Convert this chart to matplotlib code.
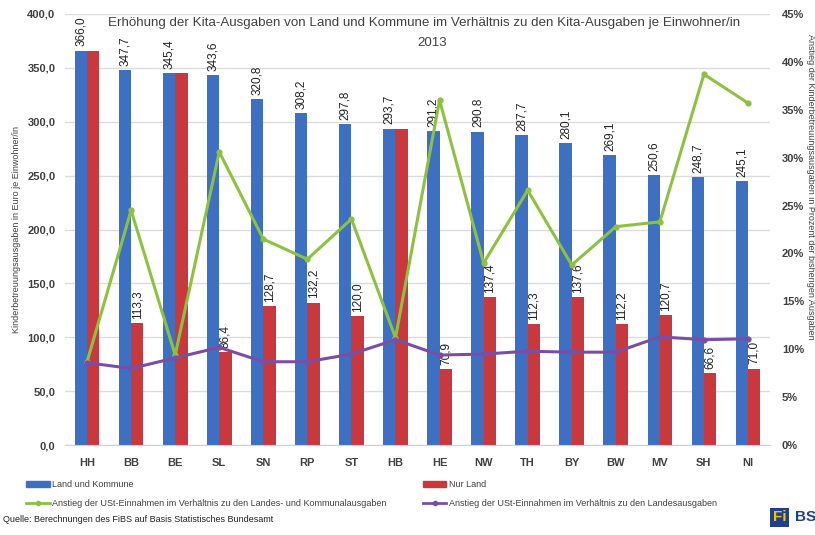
import matplotlib
matplotlib.use("Agg")
import matplotlib.pyplot as plt
from matplotlib.lines import Line2D
from matplotlib.patches import Patch
import numpy as np

plt.rcParams["font.family"] = ["Liberation Sans", "DejaVu Sans"]

laender = ["HH", "BB", "BE", "SL", "SN", "RP", "ST", "HB",
           "HE", "NW", "TH", "BY", "BW", "MV", "SH", "NI"]
land_kommune = [366.0, 347.7, 345.4, 343.6, 320.8, 308.2, 297.8, 293.7,
                291.2, 290.8, 287.7, 280.1, 269.1, 250.6, 248.7, 245.1]
nur_land = [366.0, 113.3, 345.4, 86.4, 128.7, 132.2, 120.0, 293.7,
            70.9, 137.4, 112.3, 137.6, 112.2, 120.7, 66.6, 71.0]
# Anstieg in Prozent (rechte Achse)
anstieg_land_kommune = [8.7, 24.5, 9.4, 30.6, 21.5, 19.4, 23.6, 11.2,
                        36.0, 19.0, 26.6, 18.8, 22.8, 23.3, 38.7, 35.7]
anstieg_land = [8.6, 8.0, 9.1, 10.2, 8.7, 8.7, 9.5, 11.0,
                9.4, 9.5, 9.8, 9.7, 9.7, 11.3, 11.0, 11.1]

c_blue = "#3d70c2"
c_red = "#c9383c"
c_green = "#8cc23f"
c_purple = "#7a4fa3"
c_text = "#404040"

fig = plt.figure(figsize=(8.15, 5.35), dpi=100)
ax = fig.add_axes([0.0798, 0.168, 0.865, 0.806])
ax2 = ax.twinx()

x = np.arange(len(laender))
w = 0.28
ax.bar(x - w / 2, land_kommune, width=w, color=c_blue, zorder=2)
ax.bar(x + w / 2, nur_land, width=w, color=c_red, zorder=2)

for i in range(len(laender)):
    ax.annotate("{:.1f}".format(land_kommune[i]).replace(".", ","),
                (x[i] - w / 2, land_kommune[i]), xytext=(0, 3),
                textcoords="offset points", rotation=90, ha="center",
                va="bottom", fontsize=8.5, color="#222222")
    if nur_land[i] != land_kommune[i]:
        ax.annotate("{:.1f}".format(nur_land[i]).replace(".", ","),
                    (x[i] + w / 2, nur_land[i]), xytext=(0, 3),
                    textcoords="offset points", rotation=90, ha="center",
                    va="bottom", fontsize=8.5, color="#222222")

ax2.plot(x, anstieg_land_kommune, color=c_green, linewidth=2.2,
         marker="o", markersize=3.5, zorder=3)
ax2.plot(x, anstieg_land, color=c_purple, linewidth=2.2,
         marker="o", markersize=3.5, zorder=3)

ax.set_xlim(-0.5, len(laender) - 0.5)
ax.set_ylim(0, 400)
ax2.set_ylim(0, 45)
ax.set_yticks(np.arange(0, 401, 50))
ax.set_yticklabels(["{:.1f}".format(v).replace(".", ",") for v in np.arange(0, 401, 50)])
ax2.set_yticks(np.arange(0, 46, 5))
ax2.set_yticklabels(["{}%".format(v) for v in range(0, 46, 5)])
ax.set_xticks(x)
ax.set_xticklabels(laender)

ax.grid(axis="y", color="#dcdcdc", linewidth=1, zorder=0)
ax.set_axisbelow(True)
for a in (ax, ax2):
    for s in a.spines.values():
        s.set_visible(False)
    a.tick_params(length=0, labelsize=8, colors=c_text)
ax.spines["bottom"].set_visible(True)
ax.spines["bottom"].set_color("#d0d0d0")
ax.tick_params(axis="x", pad=9)
ax.tick_params(axis="y", pad=7)
ax2.tick_params(axis="y", pad=8.5)
for lbl in ax.get_xticklabels() + ax.get_yticklabels() + ax2.get_yticklabels():
    lbl.set_fontweight("bold")

ax.set_ylabel("Kinderbetreuungsausgaben in Euro je Einwohner/in",
              fontsize=6.5, color=c_text)
ax.yaxis.set_label_coords(-0.062, 0.5)
ax2.set_ylabel("Anstieg der Kinderbetreuungsausgaben in Prozent der bisherigen Ausgaben",
               fontsize=6.5, color=c_text, rotation=270, va="center")
ax2.yaxis.set_label_coords(1.057, 0.6)

fig.text(0.52, 0.957,
         "Erhöhung der Kita-Ausgaben von Land und Kommune im Verhältnis zu den Kita-Ausgaben je Einwohner/in",
         ha="center", va="center", fontsize=9.6, color=c_text)
fig.text(0.53, 0.9196, "2013", ha="center", va="center", fontsize=9.6, color=c_text)

leg_kw = dict(frameon=False, fontsize=6.5, handlelength=2.6, handletextpad=0.3,
              labelspacing=1.05, borderaxespad=0, borderpad=0, labelcolor=c_text)
leg1 = fig.legend([Patch(color=c_blue),
                   Line2D([], [], color=c_green, marker="o", markersize=3, lw=2)],
                  ["Land und Kommune",
                   "Anstieg der USt-Einnahmen im Verhältnis zu den Landes- und Kommunalausgaben"],
                  loc="upper left", bbox_to_anchor=(0.032, 0.102), **leg_kw)
leg2 = fig.legend([Patch(color=c_red),
                   Line2D([], [], color=c_purple, marker="o", markersize=3, lw=2)],
                  ["Nur Land",
                   "Anstieg der USt-Einnahmen im Verhältnis zu den Landesausgaben"],
                  loc="upper left", bbox_to_anchor=(0.519, 0.102), **leg_kw)

fig.text(0.004, 0.029, "Quelle: Berechnungen des FiBS auf Basis Statistisches Bundesamt",
         fontsize=6.5, color="#222222", va="center")

# Logo
fig.text(0.948, 0.033, "Fi", fontsize=11, fontweight="bold", color="#f5c400",
         va="center", ha="left",
         bbox=dict(boxstyle="square,pad=0.15", facecolor="#1f3f8f", edgecolor="none"))
fig.text(0.975, 0.033, "BS", fontsize=11, fontweight="bold", color="#1f3f8f",
         va="center", ha="left")

fig.savefig("out.png", dpi=100)
